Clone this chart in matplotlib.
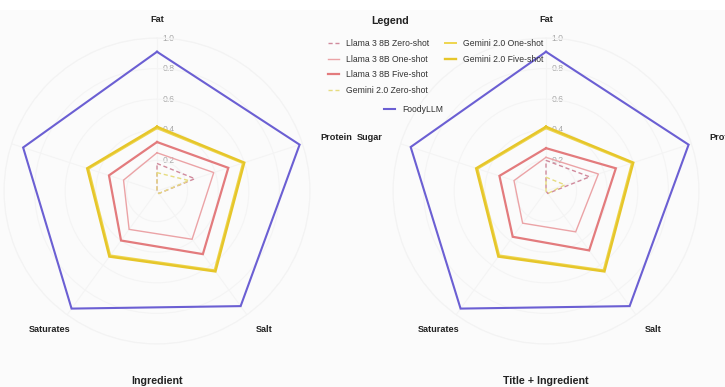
import numpy as np
import matplotlib
matplotlib.use("Agg")
import matplotlib.pyplot as plt
from matplotlib.transforms import offset_copy
from matplotlib.patches import Rectangle

plt.rcParams['font.family'] = ['Liberation Sans', 'DejaVu Sans']

# ---------------- data ----------------
categories = ["Fat", "Protein", "Salt", "Saturates", "Sugar"]
panel_titles = ["Ingredient", "Title + Ingredient"]
series_names = ["Llama 3 8B Zero-shot", "Llama 3 8B One-shot", "Llama 3 8B Five-shot",
                "Gemini 2.0 Zero-shot", "Gemini 2.0 One-shot", "Gemini 2.0 Five-shot",
                "FoodyLLM"]
r_ticks = [0.2, 0.4, 0.6, 0.8, 1.0]

# panel 1: Ingredient
llama_zero_ing = [0.18, 0.26, 0.02, 0.0, 0.0]
llama_one_ing = [0.25, 0.39, 0.39, 0.31, 0.23]
llama_five_ing = [0.32, 0.49, 0.51, 0.40, 0.33]
gemini_zero_ing = [0.12, 0.22, 0.02, 0.0, 0.0]
gemini_one_ing = [0.41, 0.59, 0.64, 0.52, 0.47]
gemini_five_ing = [0.42, 0.60, 0.65, 0.53, 0.48]
foody_ing = [0.91, 0.98, 0.93, 0.95, 0.92]

# panel 2: Title + Ingredient
llama_zero_ti = [0.20, 0.30, 0.02, 0.0, 0.0]
llama_one_ti = [0.22, 0.36, 0.33, 0.26, 0.22]
llama_five_ti = [0.28, 0.48, 0.48, 0.37, 0.32]
gemini_zero_ti = [0.09, 0.13, 0.02, 0.0, 0.0]
gemini_one_ti = [0.41, 0.59, 0.64, 0.52, 0.47]
gemini_five_ti = [0.42, 0.60, 0.65, 0.53, 0.48]
foody_ti = [0.91, 0.98, 0.93, 0.95, 0.93]

panels = [
    [llama_zero_ing, llama_one_ing, llama_five_ing, gemini_zero_ing, gemini_one_ing, gemini_five_ing, foody_ing],
    [llama_zero_ti, llama_one_ti, llama_five_ti, gemini_zero_ti, gemini_one_ti, gemini_five_ti, foody_ti],
]

# ---------------- styles ----------------
styles = [
    dict(color="#d08a9c", lw=1.0, ls=(0, (3, 2))),
    dict(color="#eba3a6", lw=1.0, ls="-"),
    dict(color="#e37b7d", lw=1.6, ls="-"),
    dict(color="#e6dc80", lw=1.0, ls=(0, (3, 2))),
    dict(color="#eed54e", lw=1.4, ls="-"),
    dict(color="#e6c62a", lw=1.7, ls="-"),
    dict(color="#6b5fd3", lw=1.5, ls="-"),
]

W, H = 725, 387
fig = plt.figure(figsize=(W / 100, H / 100), dpi=100)
fig.patch.set_facecolor("#fbfbfb")
fig.patches.append(Rectangle((0, (H - 10) / H), 1, 10 / H, transform=fig.transFigure,
                             facecolor="white", edgecolor="none", zorder=0))

R = 153
centers = [(157, 191), (546, 191)]
n = len(categories)
angles = np.arange(n) * 2 * np.pi / n

handles = []
for p, (cx, cy) in enumerate(centers):
    ax = fig.add_axes([(cx - R) / W, (H - cy - R) / H, 2 * R / W, 2 * R / H], projection="polar")
    ax.set_theta_zero_location("N")
    ax.set_theta_direction(-1)
    ax.set_facecolor("none")
    ax.set_ylim(0, 1.0)
    ax.set_xticks(angles)
    ax.set_xticklabels([])
    ax.set_yticks(r_ticks)
    ax.set_yticklabels([])
    ax.grid(color="#f4f4f4", lw=0.8)
    ax.spines["polar"].set_color("#f3f3f3")
    ax.spines["polar"].set_linewidth(0.8)
    ax.tick_params(length=0)

    for vals, st, name in zip(panels[p], styles, series_names):
        v = list(vals) + [vals[0]]
        a = list(angles) + [angles[0]]
        ln, = ax.plot(a, v, color=st["color"], lw=st["lw"], linestyle=st["ls"], label=name,
                      solid_joinstyle="miter", clip_on=False)
        if p == 0:
            handles.append(ln)

    # radial tick labels
    tr = offset_copy(ax.transData, fig=fig, x=4, y=0, units="points")
    for r in r_ticks:
        ax.text(0, r, f"{r:.1f}", transform=tr, ha="left", va="center", fontsize=6.2,
                color="#a8a8a8", zorder=1)

    # category labels
    for ang, cat in zip(angles, categories):
        s, c = np.sin(ang), np.cos(ang)
        if abs(s) < 0.1:
            ha, dx = "center", 0
        elif c > 0:
            ha, dx = ("left" if s > 0 else "right"), 0
        else:
            ha, dx = "center", (4.5 if s > 0 else -4.5)
        t = offset_copy(ax.transData, fig=fig, x=dx, y=0, units="points")
        ax.text(ang, 1.122, cat, transform=t, ha=ha, va="center", fontsize=6.6,
                fontweight="bold", color="#222222", clip_on=False)

    fig.text(cx / W, (H - 381) / H, panel_titles[p], ha="center", va="center",
             fontsize=7.7, fontweight="bold", color="#222222")

# legend
fig.text(390 / W, (H - 21) / H, "Legend", ha="center", va="center", fontsize=7.7,
         fontweight="bold", color="#222222")
common = dict(frameon=False, fontsize=6.2, handlelength=1.3, handletextpad=0.8,
              labelspacing=0.76, borderpad=0, borderaxespad=0, loc="upper left",
              labelcolor="#333333")
lg1 = fig.legend(handles[0:4], series_names[0:4], bbox_to_anchor=(328 / W, (H - 39) / H), **common)
lg2 = fig.legend(handles[4:6], series_names[4:6], bbox_to_anchor=(445 / W, (H - 39) / H), **common)
lg3 = fig.legend(handles[6:7], series_names[6:7], bbox_to_anchor=(384 / W, (H - 105) / H), **common)

fig.savefig("out.png", dpi=100, facecolor=fig.get_facecolor())
